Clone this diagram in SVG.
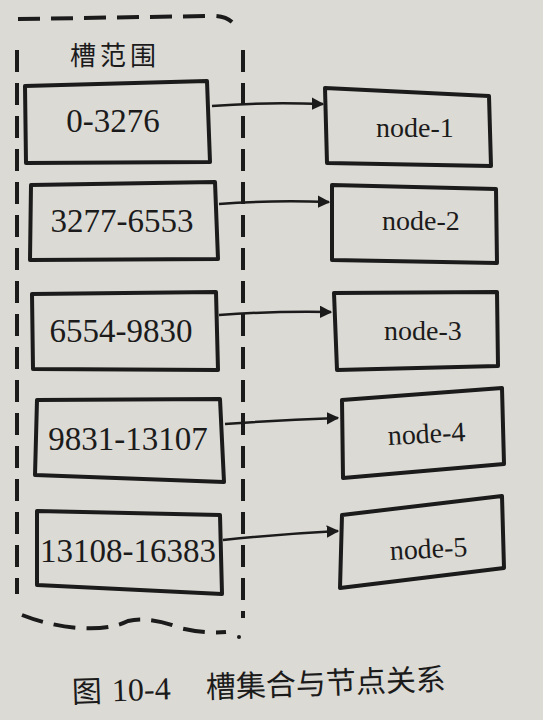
<svg xmlns="http://www.w3.org/2000/svg" width="543" height="720" viewBox="0 0 543 720">
<defs>
<style>
.box{fill:none;stroke:#1b1b1b;stroke-width:4;stroke-linejoin:round;stroke-linecap:round}
.dash{fill:none;stroke:#1b1b1b;stroke-width:4;stroke-dasharray:22 11;stroke-linecap:butt}
.lbl{font-family:"Liberation Serif","DejaVu Serif",serif;font-size:33px;fill:#1b1b1b;text-anchor:middle}
.nlbl{font-family:"Liberation Serif","DejaVu Serif",serif;font-size:28px;fill:#1b1b1b;text-anchor:middle}
.cjk{font-family:"Noto Sans CJK SC",sans-serif;fill:#1b1b1b}
.arr{fill:none;stroke:#1b1b1b;stroke-width:2.5;marker-end:url(#ah)}
</style>
<marker id="ah" viewBox="0 0 10 10" refX="9" refY="5" markerWidth="5" markerHeight="5" orient="auto" markerUnits="strokeWidth">
<path d="M0,0 L10,5 L0,10 z" fill="#1b1b1b"/>
</marker>
</defs>
<rect x="0" y="0" width="543" height="720" fill="#dcdad5"/>
<g id="slot-group">
<path class="dash" d="M17,50 L17,594"/>
<path class="dash" d="M18,19 L208,16 Q224,15 232,22"/>
<path class="dash" d="M243,50 L243,618"/>
<path class="dash" d="M22,615 Q50,626 80,628 Q110,630 128,621 Q150,616 180,628 Q205,634 226,632"/>
<circle cx="239" cy="637" r="2" fill="#1b1b1b"/>
<text class="cjk" x="70" y="65" font-size="26" letter-spacing="4">槽范围</text>
</g>
<g id="slot-1"><polygon class="box" points="25,86 207,81 210,162 26,163"/><text class="lbl" x="113" y="132">0-3276</text></g>
<g id="slot-2"><polygon class="box" points="31,185 215,182 218,259 30,260"/><text class="lbl" x="122" y="232">3277-6553</text></g>
<g id="slot-3"><polygon class="box" points="32,294 216,292 218,370 33,369"/><text class="lbl" x="121" y="342">6554-9830</text></g>
<g id="slot-4"><polygon class="box" points="37,400 220,399 224,482 35,475"/><text class="lbl" x="128" y="450">9831-13107</text></g>
<g id="slot-5"><polygon class="box" points="37,511 220,515 222,594 37,585"/><text class="lbl" x="128" y="562">13108-16383</text></g>
<g id="node-1"><polygon class="box" points="325,88 489,96 491,166 327,163"/><text class="nlbl" x="415" y="137">node-1</text></g>
<g id="node-2"><polygon class="box" points="332,185 496,189 497,263 332,260"/><text class="nlbl" x="421" y="230">node-2</text></g>
<g id="node-3"><polygon class="box" points="334,293 497,292 498,366 337,370"/><text class="nlbl" x="423" y="340">node-3</text></g>
<g id="node-4"><polygon class="box" points="342,400 502,388 504,464 343,478"/><text class="nlbl" x="427" y="443" transform="rotate(-3 427 443)">node-4</text></g>
<g id="node-5"><polygon class="box" points="342,515 502,496 504,568 340,588"/><text class="nlbl" x="429" y="558" transform="rotate(-3 429 558)">node-5</text></g>
<g id="connectors">
<path class="arr" d="M212,106 Q260,102 323,104"/>
<path class="arr" d="M219,204 Q270,200 329,202"/>
<path class="arr" d="M219,315 Q270,311 331,312"/>
<path class="arr" d="M225,424 Q280,420 338,418"/>
<path class="arr" d="M223,540 Q280,534 338,531"/>
</g>
<g id="caption" transform="rotate(-2 265 690)">
<text class="cjk" x="72" y="696" font-size="30">图</text>
<text x="112" y="696" font-family="Liberation Serif, serif" font-size="32" fill="#1b1b1b">10-4</text>
<text class="cjk" x="206" y="696" font-size="30">槽集合与节点关系</text>
</g>
</svg>
